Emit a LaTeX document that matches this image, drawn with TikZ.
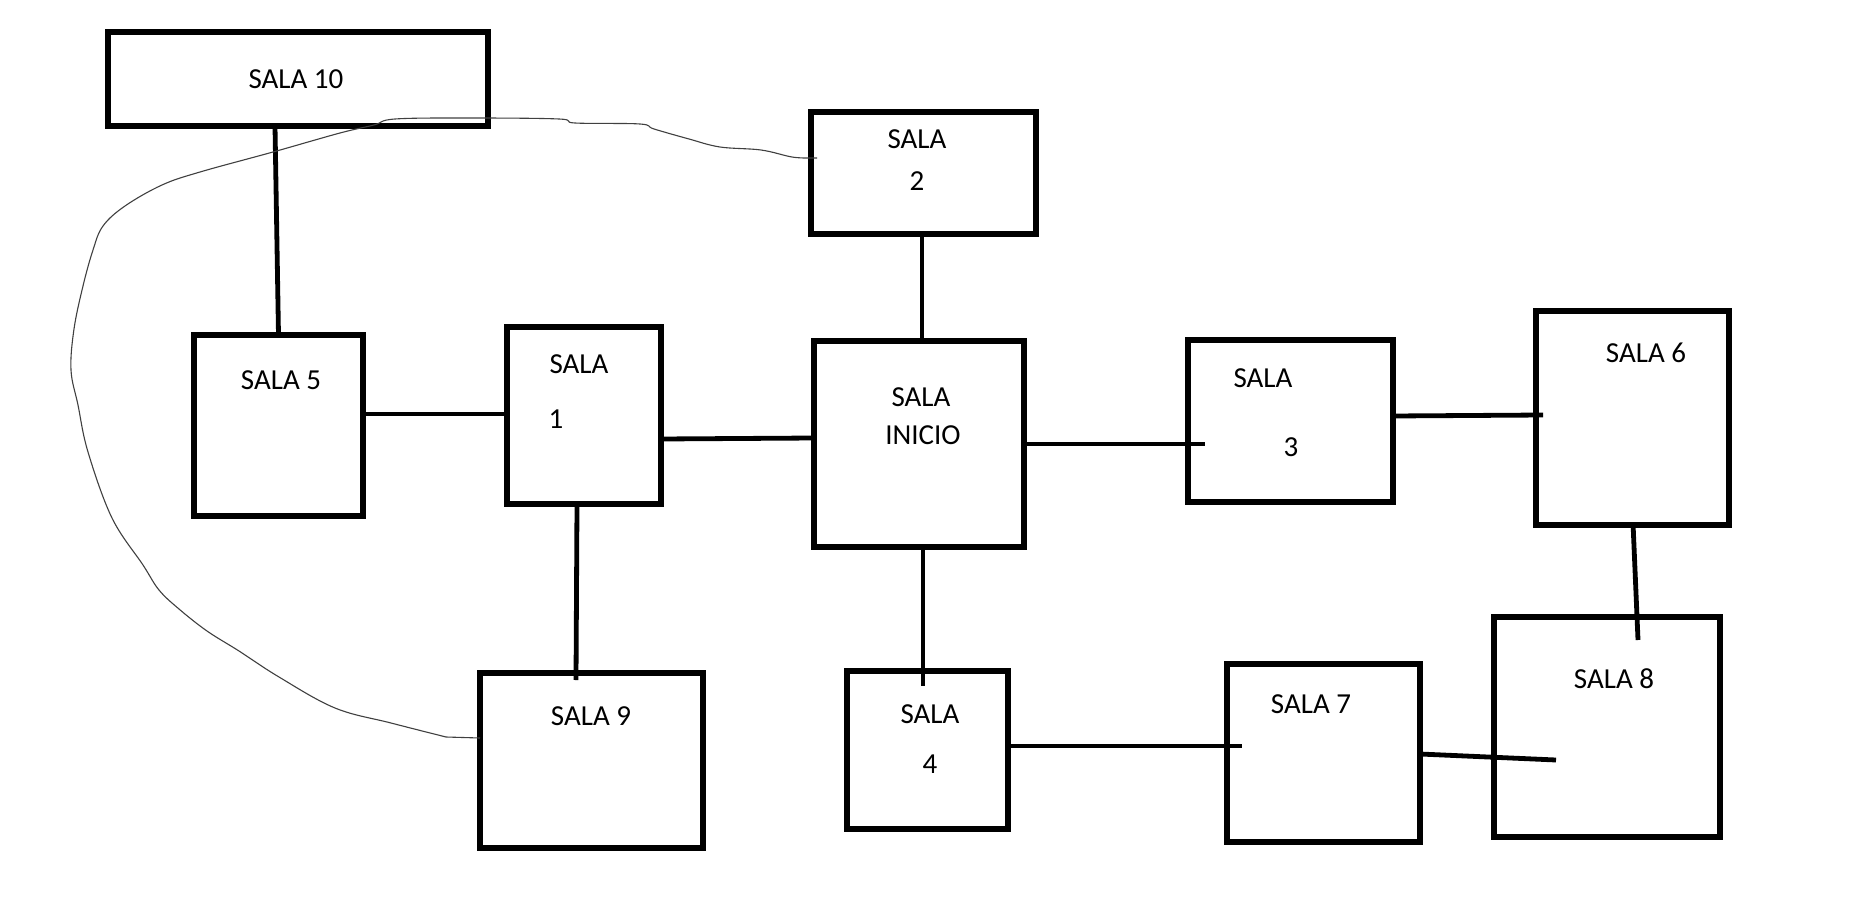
\documentclass[tikz,border=0pt]{standalone}
\usepackage{fontspec}
\setmainfont{Carlito}
\begin{document}
\begin{tikzpicture}[x=1pt,y=-1pt,
  room/.style={draw, line width=5.6pt, inner sep=0pt, outer sep=0pt},
  lbl/.style={font=\fontsize{29}{35}\selectfont, inner sep=0pt},
  link/.style={line width=4.8pt},
  loopline/.style={line width=1.1pt, black!75, line join=round}]
\useasboundingbox[fill=white] (0,0) rectangle (1858,923);
% rooms
\node[room, minimum width=380pt, minimum height=94pt]  (s10) at (298,79) {};
\node[room, minimum width=225pt, minimum height=122pt] (s2)  at (923.5,173) {};
\node[room, minimum width=169pt, minimum height=181pt] (s5)  at (278.5,425.5) {};
\node[room, minimum width=154pt, minimum height=177pt] (s1)  at (584,415.5) {};
\node[room, minimum width=210pt, minimum height=206pt] (s0)  at (919,444) {};
\node[room, minimum width=205pt, minimum height=162pt] (s3)  at (1290.5,421) {};
\node[room, minimum width=193pt, minimum height=214pt] (s6)  at (1632.5,418) {};
\node[room, minimum width=223pt, minimum height=175pt] (s9)  at (591.5,760.5) {};
\node[room, minimum width=161pt, minimum height=158pt] (s4)  at (927.5,750) {};
\node[room, minimum width=193pt, minimum height=178pt] (s7)  at (1323.5,753) {};
\node[room, minimum width=226pt, minimum height=220pt] (s8)  at (1607,727) {};
% labels
\node[lbl] (t10) at (296,79) {SALA 10};
\node[lbl] (t2a) at (917,139) {SALA};
\node[lbl] (t2b) at (917,181) {2};
\node[lbl] (t5)  at (281,380) {SALA 5};
\node[lbl] (t1a) at (579,364) {SALA};
\node[lbl] (t1b) at (556,419) {1};
\node[lbl] (t0a) at (921,397) {SALA};
\node[lbl] (t0b) at (923,435) {INICIO};
\node[lbl] (t3a) at (1263,378) {SALA};
\node[lbl] (t3b) at (1291,447) {3};
\node[lbl] (t6)  at (1646,353) {SALA 6};
\node[lbl] (t9)  at (591,716) {SALA 9};
\node[lbl] (t4a) at (930,714) {SALA};
\node[lbl] (t4b) at (930,764) {4};
\node[lbl] (t7)  at (1311,704) {SALA 7};
\node[lbl] (t8)  at (1614,679) {SALA 8};
% connectors
\draw[link] ([xshift=-23pt]s10.south) -- (s5.north);
\draw[link] ([yshift=11.5pt]s5.east) -- ([yshift=1.5pt]s1.west);
\draw[link] ([yshift=-23.5pt]s1.east) -- ([yshift=6pt]s0.west);
\draw[link] ([xshift=-1.5pt]s2.south) -- ([xshift=3pt]s0.north);
\draw[link] (s0.east) -- ([xshift=17pt,yshift=-23pt]s3.west);
\draw[link] ([yshift=5pt]s3.east) -- ([xshift=7pt,yshift=3pt]s6.west);
\draw[link] ([xshift=0.5pt,yshift=2pt]s6.south) -- ([xshift=31pt,yshift=-23pt]s8.north);
\draw[link] ([xshift=-7pt]s1.south) -- ([xshift=-15.5pt,yshift=-7pt]s9.north);
\draw[link] ([xshift=4pt]s0.south) -- ([xshift=-4.5pt,yshift=-15pt]s4.north);
\draw[link] ([yshift=4pt]s4.east) -- ([xshift=15pt,yshift=7pt]s7.west);
\draw[link] ([yshift=-1pt]s7.east) -- ([xshift=62pt,yshift=-33pt]s8.west);
% thin hand-drawn loop from SALA 9 to SALA 2
\draw[loopline] ([yshift=22.5pt]s9.west) -- plot[smooth, tension=0.6] coordinates {
 (446,737) (391,723) (335,708) (279,677) (239,651) (207,631) (179,609) (159,590)
 (143,565) (112,518) (88,452) (78,405) (71,370) (74,329) (83,286) (93,250)
 (103,226) (125,206) (162,185) (200,172) (273,152) (340,133) (374,125) (395,119)
 (470,118) (559,119) (575,123) (640,124) (654,129) (689,139) (720,147) (761,150)
 (792,157) (810,158)} -- ([xshift=6pt,yshift=15pt]s2.west);
\end{tikzpicture}
\end{document}
